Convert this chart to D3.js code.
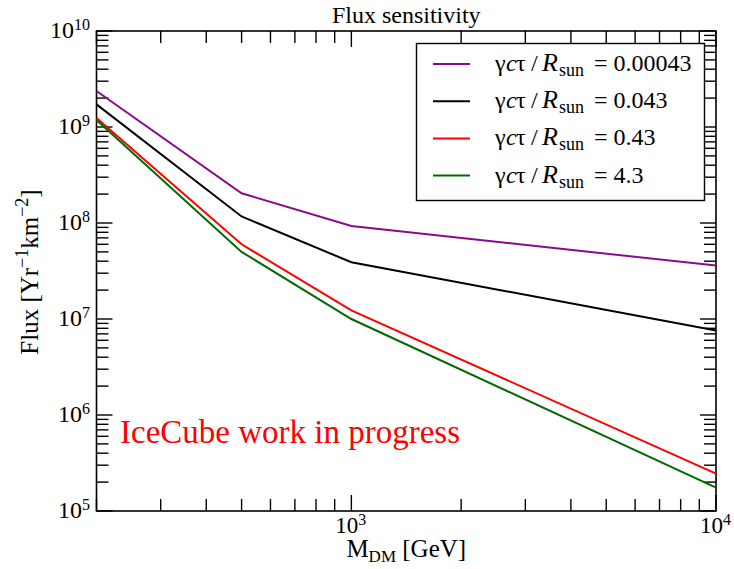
<!DOCTYPE html>
<html>
<head>
<meta charset="utf-8">
<script src="https://cdn.jsdelivr.net/npm/d3@7"></script>
<style>
  body { margin: 0; background: #fff; }
  svg { font-family: "Liberation Serif", "DejaVu Serif", serif; }
</style>
</head>
<body>
<svg width="734" height="569"></svg>
<script>
// masses (GeV) and flux values
const masses = [200, 500, 1000, 10000];
const flux00043 = [2.37e9, 2.04e8, 9.3e7, 3.6e7];
const flux0043 = [1.72e9, 1.17e8, 3.9e7, 7.6e6];
const flux043 = [1.24e9, 6.0e7, 1.23e7, 2.45e5];
const flux43 = [1.18e9, 5.0e7, 1.0e7, 1.75e5];
const seriesNames = ['0.00043', '0.043', '0.43', '4.3'];
const seriesColors = ['#8a0a8a', '#000000', '#ff0000', '#006a00'];
const xDomain = [200, 10000];
const yDomain = [1e5, 1e10];

const allSeries = [flux00043, flux0043, flux043, flux43];

const svg = d3.select('svg');
const pLeft = 96.5, pRight = 716, pTop = 31, pBottom = 511;

const x = d3.scaleLog().domain(xDomain).range([pLeft, pRight]);
const y = d3.scaleLog().domain(yDomain).range([pBottom, pTop]);

const xTicks = x.ticks();
const yTicks = y.ticks();
const isMajor = v => Math.abs(Math.log10(v) - Math.round(Math.log10(v))) < 1e-9;

// ticks, all pointing inward, mirrored on the opposite sides
function drawTicks(axis, ticks, pos, base, sign) {
  svg.append('g').selectAll('line')
    .data(ticks)
    .enter()
    .append('line')
    .attr('x1', d => axis === 'x' ? pos(d) : base)
    .attr('x2', d => axis === 'x' ? pos(d) : base + sign * (isMajor(d) ? 16 : 12))
    .attr('y1', d => axis === 'y' ? pos(d) : base)
    .attr('y2', d => axis === 'y' ? pos(d) : base + sign * (isMajor(d) ? 16 : 12))
    .style('stroke', '#000')
    .style('stroke-width', 1.4);
}
drawTicks('x', xTicks, x, pBottom, -1);
drawTicks('x', xTicks, x, pTop, 1);
drawTicks('y', yTicks, y, pLeft, 1);
drawTicks('y', yTicks, y, pRight, -1);

// frame
svg.append('rect')
  .attr('x', pLeft).attr('y', pTop)
  .attr('width', pRight - pLeft).attr('height', pBottom - pTop)
  .style('fill', 'none').style('stroke', '#000').style('stroke-width', 1.6);

// tick labels as powers of ten
function powLabel(sel, v) {
  sel.append('tspan').text('10');
  sel.append('tspan').attr('dy', -8).style('font-size', '16px').text(Math.round(Math.log10(v)));
}
xTicks.filter(isMajor).forEach(v => {
  const t = svg.append('text')
    .attr('x', x(v) - 16).attr('y', 533)
    .style('font-size', '23px');
  powLabel(t, v);
});
yTicks.filter(isMajor).forEach(v => {
  const t = svg.append('text')
    .attr('x', 90).attr('y', y(v) + 7)
    .attr('text-anchor', 'end')
    .style('font-size', '24px');
  powLabel(t, v);
});

// curves
const line = d3.line()
  .x((d, i) => x(masses[i]))
  .y(d => y(d));

svg.selectAll('path.curve')
  .data(allSeries)
  .enter()
  .append('path')
  .attr('class', 'curve')
  .attr('d', line)
  .style('fill', 'none')
  .style('stroke', (d, i) => seriesColors[i])
  .style('stroke-width', 2);

// title and axis labels
svg.append('text')
  .attr('x', (pLeft + pRight) / 2).attr('y', 23)
  .attr('text-anchor', 'middle')
  .style('font-size', '24px')
  .text('Flux sensitivity');

const xl = svg.append('text')
  .attr('x', (pLeft + pRight) / 2).attr('y', 557)
  .attr('text-anchor', 'middle')
  .style('font-size', '25px');
xl.append('tspan').text('M');
xl.append('tspan').attr('dy', 5).style('font-size', '17px').text('DM');
xl.append('tspan').attr('dy', -5).text(' [GeV]');

const yl = svg.append('text')
  .attr('transform', `translate(38, ${(pTop + pBottom) / 2 + 1}) rotate(-90)`)
  .attr('text-anchor', 'middle')
  .style('font-size', '25px');
yl.append('tspan').text('Flux [Yr');
yl.append('tspan').attr('dy', -10).style('font-size', '18px').text('\u22121');
yl.append('tspan').attr('dy', 10).text('km');
yl.append('tspan').attr('dy', -10).style('font-size', '18px').text('\u22122');
yl.append('tspan').attr('dy', 10).text(']');

// watermark
svg.append('text')
  .attr('x', 120).attr('y', 443)
  .style('font-size', '33px')
  .style('fill', '#ff0000')
  .text('IceCube work in progress');

// legend
const legend = svg.append('g');
legend.append('rect')
  .attr('x', 416.5).attr('y', 43.5)
  .attr('width', 288).attr('height', 157)
  .style('fill', '#fff').style('stroke', '#000').style('stroke-width', 1.4);

seriesNames.forEach((name, i) => {
  const ry = 64 + i * 37.2;
  legend.append('line')
    .attr('x1', 433).attr('x2', 470)
    .attr('y1', ry).attr('y2', ry)
    .style('stroke', seriesColors[i]).style('stroke-width', 2);
  const t = legend.append('text')
    .attr('x', 495).attr('y', ry + 7)
    .style('font-size', '24px');
  t.append('tspan').text('\u03b3');
  t.append('tspan').attr('x', 506).style('font-style', 'italic').text('c');
  t.append('tspan').attr('x', 516).text('\u03c4');
  t.append('tspan').attr('x', 531).text('/');
  t.append('tspan').attr('x', 542).style('font-style', 'italic').style('font-size', '26px').text('R');
  t.append('tspan').attr('x', 559).attr('dy', 5).style('font-size', '18px').text('sun');
  t.append('tspan').attr('x', 594).attr('dy', -5).text('= ' + name);
});
</script>
</body>
</html>
